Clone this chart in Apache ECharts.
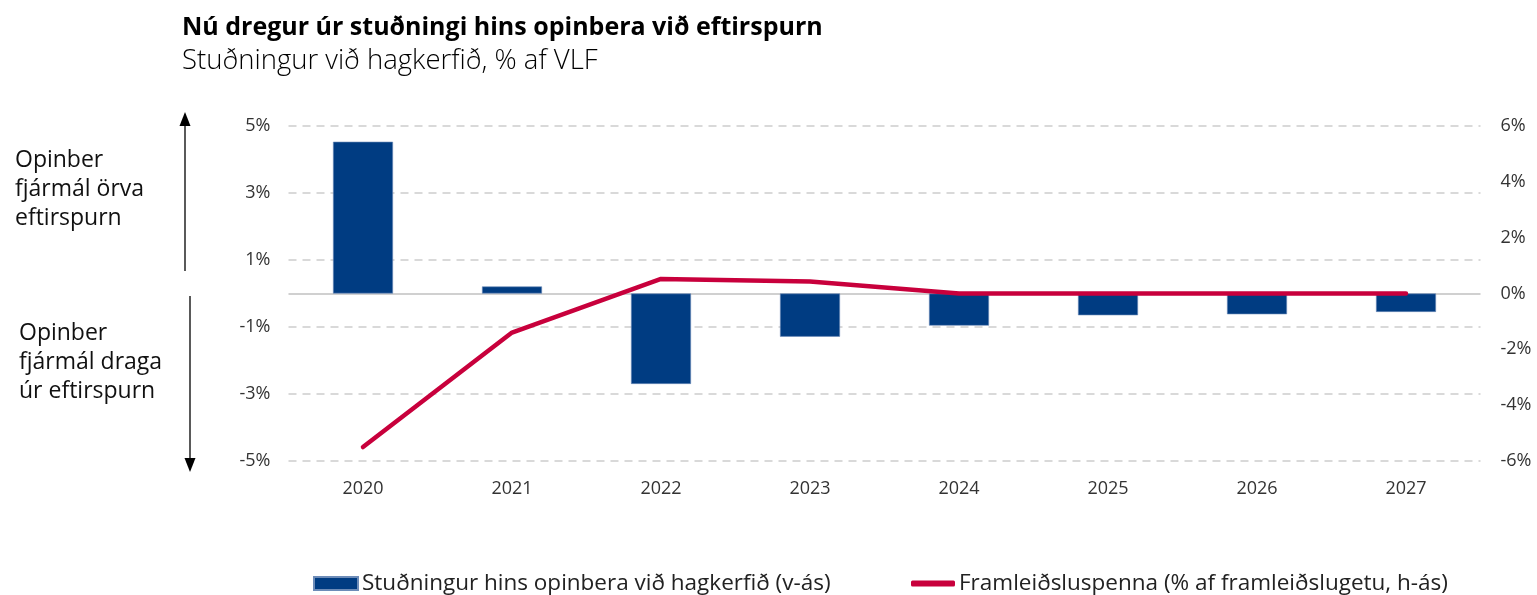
<!DOCTYPE html>
<html>
<head>
<meta charset="utf-8">
<script src="https://cdn.jsdelivr.net/npm/echarts@6/dist/echarts.min.js"></script>
<style>
  html, body { margin: 0; padding: 0; background: #fff; }
  #chart { width: 1537px; height: 595px; }
</style>
</head>
<body>
<div id="chart"></div>
<script>
// ár
const years = ['2020', '2021', '2022', '2023', '2024', '2025', '2026', '2027'];
// Stuðningur hins opinbera við hagkerfið (v-ás), % af VLF
const supportValues = [4.53, 0.21, -2.7, -1.29, -0.96, -0.65, -0.62, -0.55];
// Framleiðsluspenna (h-ás), % af framleiðslugetu
const outputGap = [-5.5, -1.4, 0.52, 0.43, 0.0, 0.0, 0.0, 0.0];

const barName = 'Stuðningur hins opinbera við hagkerfið (v-ás)';
const lineName = 'Framleiðsluspenna (% af framleiðslugetu, h-ás)';

const FONT = '"Open Sans"';
const chart = echarts.init(document.getElementById('chart'));

chart.setOption({
  backgroundColor: '#fff',
  animation: false,
  textStyle: { fontFamily: FONT },
  title: {
    text: 'Nú dregur úr stuðningi hins opinbera við eftirspurn',
    subtext: 'Stuðningur við hagkerfið, % af VLF',
    left: 177,
    top: 10,
    itemGap: 7,
    textStyle: { fontFamily: FONT, fontSize: 25, fontWeight: 'bold', color: '#000' },
    subtextStyle: { fontFamily: FONT, fontSize: 27.5, fontWeight: 300, color: '#000' }
  },
  legend: [
    {
      left: 313,
      top: 572,
      padding: 0,
      itemWidth: 44,
      itemHeight: 13,
      textStyle: { fontFamily: FONT, fontSize: 22.5, color: '#222', padding: [0, 0, 0, -1] },
      data: [{ name: barName, icon: 'rect' }]
    },
    {
      left: 911,
      top: 572,
      padding: 0,
      itemWidth: 44,
      itemHeight: 6,
      textStyle: { fontFamily: FONT, fontSize: 22.5, color: '#222', padding: [0, 0, 0, -1] },
      data: [{ name: lineName, icon: 'roundRect' }]
    }
  ],
  grid: { left: 288.5, right: 56.5, top: 126, bottom: 134 },
  xAxis: {
    type: 'category',
    data: years,
    axisLine: { show: false, onZero: false },
    axisTick: { show: false },
    axisLabel: { fontSize: 18, color: '#333', margin: 19 }
  },
  yAxis: [
    {
      type: 'value',
      min: -5,
      max: 5,
      interval: 1,
      axisLine: { show: false },
      axisTick: { show: false },
      axisLabel: {
        fontSize: 18,
        color: '#333',
        margin: 18,
        formatter: v => (Math.abs(v) % 2 === 1 ? v + '%' : '')
      },
      splitLine: {
        show: true,
        lineStyle: { color: ['#d9d9d9', 'transparent'], type: [8, 6], width: 2 }
      }
    },
    {
      type: 'value',
      min: -6,
      max: 6,
      interval: 2,
      position: 'right',
      axisLine: { show: false },
      axisTick: { show: false },
      axisLabel: { fontSize: 18, color: '#333', margin: 20, formatter: '{value}%' },
      splitLine: { show: false }
    }
  ],
  series: [
    {
      name: barName,
      type: 'bar',
      yAxisIndex: 0,
      data: supportValues,
      barWidth: 60,
      itemStyle: { color: '#003C82', borderColor: '#6d8cb8', borderWidth: 0.6 },
      markLine: {
        silent: true,
        symbol: 'none',
        z: 1,
        label: { show: false },
        lineStyle: { color: '#d0d0d0', type: 'solid', width: 2 },
        data: [{ yAxis: 0 }]
      }
    },
    {
      name: lineName,
      type: 'line',
      yAxisIndex: 1,
      data: outputGap,
      symbol: 'none',
      z: 10,
      lineStyle: { color: '#C8003C', width: 4.5, cap: 'round', join: 'round' },
      itemStyle: { color: '#C8003C' }
    }
  ],
  graphic: [
    {
      type: 'text',
      left: 15,
      top: 146,
      style: {
        text: 'Opinber\nfjármál örva\neftirspurn',
        font: '23px ' + FONT,
        lineHeight: 29,
        fill: '#111'
      }
    },
    {
      type: 'text',
      left: 19,
      top: 319,
      style: {
        text: 'Opinber\nfjármál draga\núr eftirspurn',
        font: '23px ' + FONT,
        lineHeight: 29,
        fill: '#111'
      }
    },
    // ör upp
    { type: 'line', shape: { x1: 185, y1: 271, x2: 185, y2: 122 }, style: { stroke: '#000', lineWidth: 1.3 } },
    { type: 'polygon', shape: { points: [[185, 112], [179.5, 126], [190.5, 126]] }, style: { fill: '#000' } },
    // ör niður
    { type: 'line', shape: { x1: 190, y1: 296, x2: 190, y2: 462 }, style: { stroke: '#000', lineWidth: 1.3 } },
    { type: 'polygon', shape: { points: [[190, 472], [184.5, 458], [195.5, 458]] }, style: { fill: '#000' } }
  ]
});
</script>
</body>
</html>
